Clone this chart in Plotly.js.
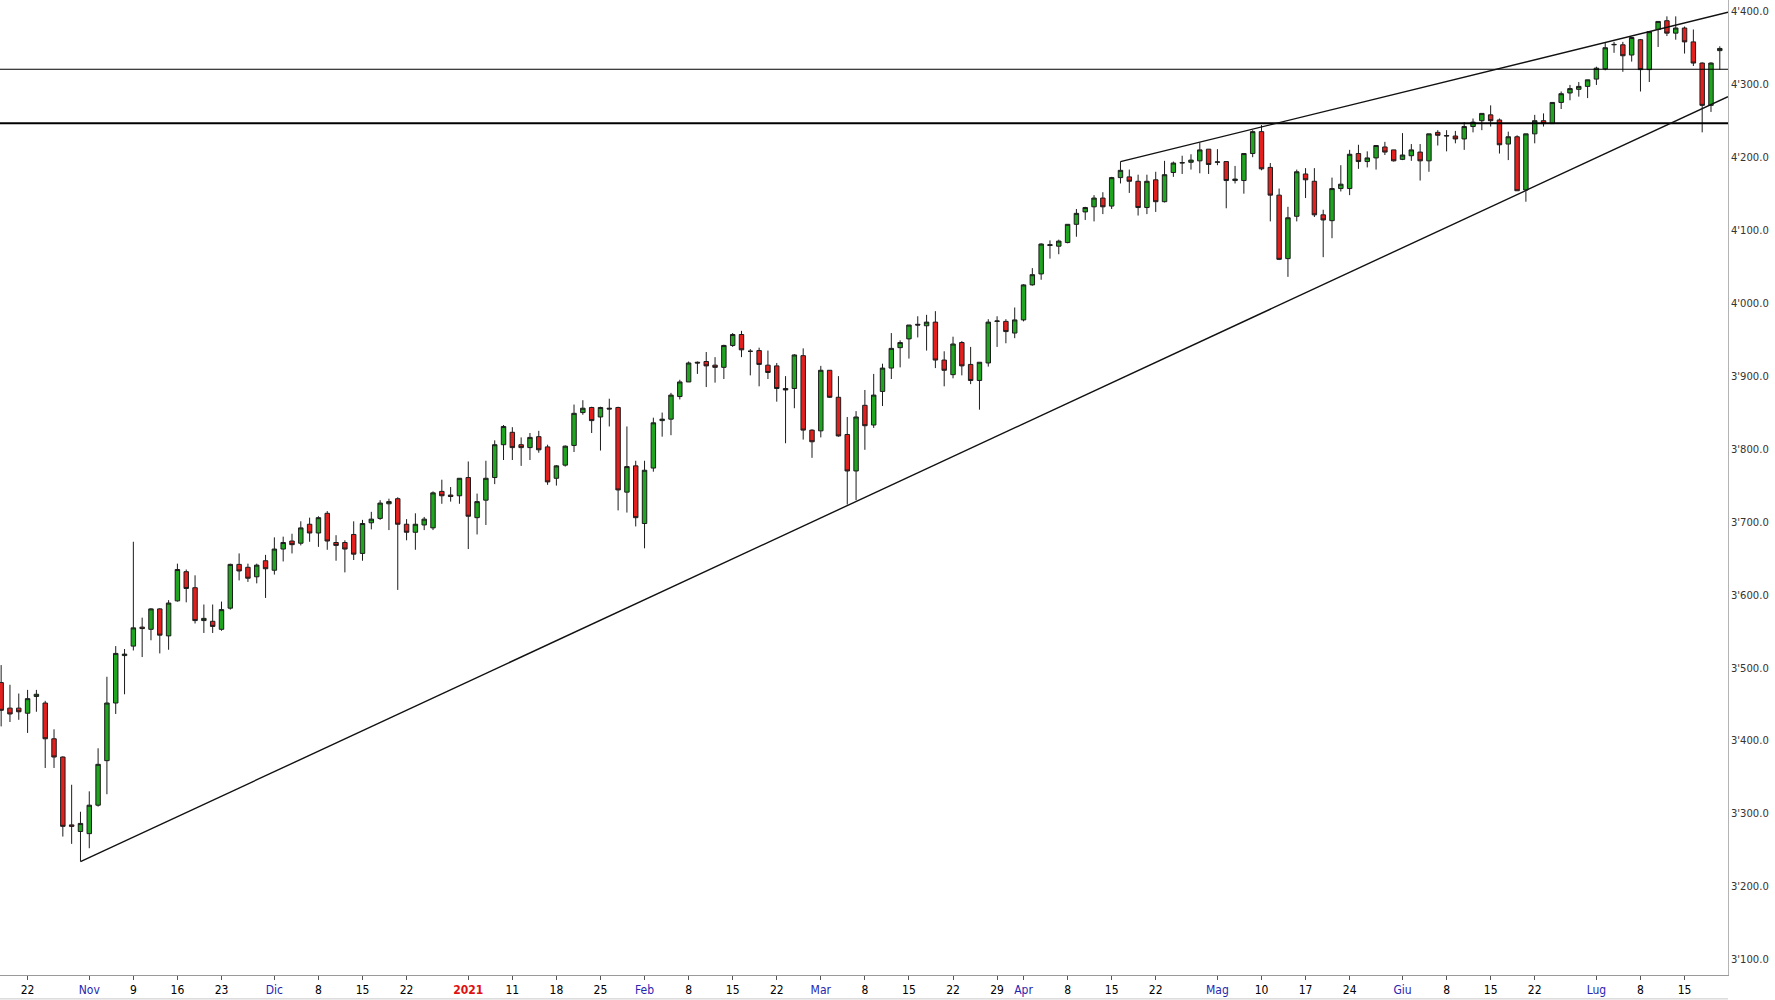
<!DOCTYPE html>
<html>
<head>
<meta charset="utf-8">
<script src="https://cdn.plot.ly/plotly-3.0.1.min.js"></script>
<style>
html,body{margin:0;padding:0;background:#ffffff;}
#chart{width:1775px;height:1000px;}
</style>
</head>
<body>
<div id="chart"></div>
<script>
// Trading sessions shown (month -> day numbers)
const sessionDays = [
  ['2020-10', [19,20,21,22,23,26,27,28,29,30]],
  ['2020-11', [2,3,4,5,6,9,10,11,12,13,16,17,18,19,20,23,24,25,26,27,30]],
  ['2020-12', [1,2,3,4,7,8,9,10,11,14,15,16,17,18,21,22,23,24,28,29,30,31]],
  ['2021-01', [4,5,6,7,8,11,12,13,14,15,18,19,20,21,22,25,26,27,28,29]],
  ['2021-02', [1,2,3,4,5,8,9,10,11,12,15,16,17,18,19,22,23,24,25,26]],
  ['2021-03', [1,2,3,4,5,8,9,10,11,12,15,16,17,18,19,22,23,24,25,26,29,30,31]],
  ['2021-04', [1,2,5,6,7,8,9,12,13,14,15,16,19,20,21,22,23,26,27,28,29,30]],
  ['2021-05', [3,4,5,6,7,10,11,12,13,14,17,18,19,20,21,24,25,26,27,28,31]],
  ['2021-06', [1,2,3,4,7,8,9,10,11,14,15,16,17,18,21,22,23,24,25,28,29,30]],
  ['2021-07', [1,2,5,6,7,8,9,12,13,14,15,16,19,20,21]]
];

const openVals = [
  3480,3445,3445,3438,3461,3452,3403,3378,3285,3276,
  3273,3312,3373,3452,3517,3530,3556,3553,3581,3544,
  3592,3632,3610,3565,3564,3553,3582,3642,3638,3625,
  3647,3634,3663,3674,3671,3697,3685,3712,3672,3672,
  3683,3657,3699,3705,3725,3732,3697,3686,3696,3692,
  3742,3737,3736,3761,3706,3730,3761,3806,3823,3806,
  3802,3817,3803,3760,3778,3805,3850,3857,3844,3856,
  3857,3741,3777,3698,3774,3839,3841,3872,3892,3919,
  3920,3915,3912,3942,3957,3934,3935,3915,3914,3883,
  3883,3928,3826,3825,3908,3871,3820,3770,3860,3833,
  3879,3911,3939,3951,3971,3969,3974,3922,3902,3946,
  3916,3894,3918,3975,3975,3959,3977,4025,4040,4079,
  4078,4083,4108,4125,4132,4144,4133,4172,4173,4167,
  4131,4169,4139,4179,4192,4193,4195,4211,4193,4194,
  4168,4168,4205,4235,4186,4148,4061,4119,4177,4167,
  4121,4113,4157,4157,4205,4194,4199,4214,4210,4197,
  4202,4207,4195,4234,4229,4229,4225,4242,4250,4258,
  4251,4218,4228,4155,4232,4250,4246,4275,4288,4293,
  4297,4307,4321,4354,4354,4340,4361,4320,4375,4387,
  4370,4377,4358,4329,4271,4346
];
const highVals = [
  3504,3477,3465,3470,3470,3455,3416,3379,3340,3303,
  3331,3390,3488,3530,3526,3673,3569,3582,3582,3593,
  3643,3635,3627,3587,3587,3591,3643,3657,3643,3643,
  3655,3679,3680,3684,3701,3706,3708,3715,3682,3675,
  3701,3703,3714,3730,3732,3734,3704,3712,3707,3742,
  3758,3748,3760,3783,3739,3784,3812,3833,3830,3816,
  3822,3825,3806,3778,3805,3861,3867,3858,3858,3869,
  3858,3831,3784,3784,3843,3850,3877,3895,3920,3920,
  3933,3926,3943,3959,3962,3937,3939,3935,3918,3900,
  3930,3938,3827,3914,3908,3900,3844,3852,3881,3903,
  3917,3959,3949,3970,3982,3984,3989,3934,3954,3948,
  3940,3919,3978,3982,3978,3994,4026,4048,4082,4086,
  4087,4108,4129,4132,4148,4152,4173,4194,4183,4176,
  4176,4180,4195,4194,4202,4204,4220,4211,4211,4194,
  4188,4205,4237,4244,4192,4157,4132,4183,4185,4185,
  4128,4172,4189,4210,4217,4208,4216,4221,4210,4233,
  4218,4218,4232,4237,4237,4236,4248,4253,4260,4271,
  4253,4235,4230,4232,4258,4260,4275,4290,4299,4303,
  4306,4324,4357,4358,4358,4365,4362,4372,4386,4393,
  4393,4379,4375,4330,4330,4352
];
const lowVals = [
  3420,3426,3429,3411,3440,3363,3363,3269,3259,3235,
  3253,3310,3327,3437,3464,3524,3515,3538,3520,3525,
  3591,3590,3561,3548,3548,3551,3580,3620,3618,3616,
  3596,3628,3646,3657,3668,3673,3666,3662,3647,3631,
  3648,3647,3690,3703,3689,3607,3675,3662,3689,3689,
  3725,3728,3725,3663,3683,3696,3752,3785,3785,3777,
  3785,3795,3751,3750,3776,3796,3847,3822,3798,3831,
  3716,3713,3694,3664,3769,3817,3819,3868,3892,3903,
  3885,3891,3896,3940,3926,3901,3886,3896,3865,3808,
  3856,3813,3788,3816,3870,3817,3724,3730,3799,3829,
  3859,3896,3912,3924,3953,3935,3911,3886,3897,3901,
  3889,3854,3913,3940,3945,3952,3975,4024,4032,4061,
  4067,4082,4091,4114,4112,4122,4129,4164,4151,4120,
  4122,4125,4138,4173,4177,4183,4178,4177,4189,4130,
  4164,4150,4200,4182,4112,4059,4036,4112,4144,4118,
  4063,4089,4153,4148,4184,4186,4183,4203,4194,4196,
  4195,4168,4180,4216,4208,4219,4210,4234,4237,4242,
  4205,4196,4154,4139,4219,4242,4246,4266,4278,4283,
  4281,4299,4319,4343,4317,4331,4290,4303,4351,4366,
  4361,4342,4325,4234,4262,4320
];
const closeVals = [
  3442,3437,3440,3458,3464,3403,3378,3283,3283,3287,
  3312,3368,3452,3520,3519,3555,3554,3581,3545,3589,
  3635,3609,3565,3568,3557,3580,3642,3633,3623,3641,
  3636,3663,3672,3669,3692,3685,3706,3674,3668,3663,
  3656,3698,3704,3726,3728,3697,3686,3697,3704,3740,
  3736,3735,3760,3708,3728,3760,3806,3831,3802,3802,
  3816,3799,3755,3777,3804,3849,3856,3839,3857,3855,
  3744,3776,3706,3771,3836,3841,3874,3892,3918,3918,
  3914,3912,3942,3957,3936,3934,3916,3905,3883,3881,
  3929,3826,3810,3908,3871,3818,3770,3844,3832,3874,
  3911,3938,3946,3970,3970,3974,3922,3908,3944,3914,
  3894,3919,3974,3975.5,3961,3977,4025,4039,4081,4080,
  4085,4108,4123,4131,4144,4132,4172,4182,4167,4131,
  4167,4139,4176,4192,4192.5,4196,4210,4190,4193.5,4168,
  4170,4205,4235,4184,4148,4060,4117,4180,4169,4121,
  4114,4157,4163,4204,4194,4199,4216,4207,4195,4203,
  4210,4195,4232,4230,4229.5,4225,4242,4248,4260,4250,
  4217,4228,4154,4232,4250,4246,4275,4287,4294,4297,
  4306,4322,4350,4354.5,4339,4364,4320,4372,4386,4370,
  4377,4358,4329,4271,4329,4349
];

// x-axis labels (date -> label, kind)
const tickDates = ['2020-10-22','2020-11-02','2020-11-09','2020-11-16','2020-11-23','2020-12-01','2020-12-08','2020-12-15','2020-12-22',
  '2021-01-04','2021-01-11','2021-01-18','2021-01-25','2021-02-01','2021-02-08','2021-02-15','2021-02-22','2021-03-01','2021-03-08',
  '2021-03-15','2021-03-22','2021-03-29','2021-04-01','2021-04-08','2021-04-15','2021-04-22','2021-05-03','2021-05-10','2021-05-17',
  '2021-05-24','2021-06-01','2021-06-08','2021-06-15','2021-06-22','2021-07-01','2021-07-08','2021-07-15'];
const tickLabels = ['22','Nov','9','16','23','Dic','8','15','22',
  '2021','11','18','25','Feb','8','15','22','Mar','8',
  '15','22','29','Apr','8','15','22','Mag','10','17',
  '24','Giu','8','15','22','Lug','8','15'];
const tickKinds = ['d','m','d','d','d','m','d','d','d',
  'y','d','d','d','m','d','d','d','m','d',
  'd','d','d','m','d','d','d','m','d','d',
  'd','m','d','d','d','m','d','d'];

const yTickVals = [3100,3200,3300,3400,3500,3600,3700,3800,3900,4000,4100,4200,4300,4400];

// drawn support/resistance levels
const hLevels = [4320.5, 4246.5];
// trendlines: [start date, start value, value at right edge]
const trendLines = [
  ['2020-10-30', 3234.6, 4283.0],
  ['2021-04-16', 4193.9, 4398.6]
];

// ---- build ----
const dates = [];
sessionDays.forEach(([ym, days]) => days.forEach(d => dates.push(ym + '-' + String(d).padStart(2,'0'))));
const xIdx = dates.map((d, i) => i);
const idxOf = d => dates.indexOf(d);

const X_MIN = -0.13, X_MAX = 195.93;

const ticktext = tickLabels.map((t, i) => {
  if (tickKinds[i] === 'm') return '<span style="color:#2626b0">' + t + '</span>';
  if (tickKinds[i] === 'y') return '<b><span style="color:#e01010">' + t + '</span></b>';
  return t;
});

const trace = {
  type: 'candlestick',
  x: xIdx,
  open: openVals, high: highVals, low: lowVals, close: closeVals,
  increasing: {line: {color: '#1c1c1c', width: 1}, fillcolor: '#1fa51f'},
  decreasing: {line: {color: '#1c1c1c', width: 1}, fillcolor: '#e3201e'},
  whiskerwidth: 0,
  hoverinfo: 'skip'
};

const shapes = [];
hLevels.forEach((v, i) => {
  shapes.push({type: 'line', xref: 'paper', yref: 'y', x0: 0, x1: 1, y0: v, y1: v,
    line: {color: '#000', width: i === 0 ? 1 : 2}});
});
trendLines.forEach(t => {
  shapes.push({type: 'line', xref: 'x', yref: 'y', x0: idxOf(t[0]), y0: t[1], x1: X_MAX, y1: t[2],
    line: {color: '#111', width: 1.4}});
});
// bottom frame line
shapes.push({type: 'line', xref: 'paper', yref: 'paper', x0: 0, x1: 1, y0: -0.0245, y1: -0.0245,
  line: {color: '#c8c8c8', width: 1}});

const layout = {
  width: 1775, height: 1000,
  margin: {l: 0, r: 47, t: 0, b: 25, pad: 0},
  paper_bgcolor: '#ffffff', plot_bgcolor: '#ffffff',
  separators: ".'",
  showlegend: false,
  boxgap: 0.28,
  xaxis: {
    type: 'linear', range: [X_MIN, X_MAX],
    rangeslider: {visible: false},
    tickmode: 'array', tickvals: tickDates.map(idxOf), ticktext: ticktext,
    showgrid: false, zeroline: false,
    showline: true, linecolor: '#9a9a9a', linewidth: 1,
    ticks: 'outside', ticklen: 4, tickcolor: '#555', tickwidth: 1,
    tickfont: {family: '"Liberation Sans Narrow", "DejaVu Sans Condensed", sans-serif', size: 12, color: '#000'},
    fixedrange: true
  },
  yaxis: {
    side: 'right', range: [3079.3, 4415.4],
    tickmode: 'array', tickvals: yTickVals, tickformat: ',.1f',
    showgrid: false, zeroline: false,
    showline: true, linecolor: '#b4b4b4', linewidth: 1,
    ticks: '',
    tickfont: {family: '"DejaVu Sans", Verdana, sans-serif', size: 10, color: '#333'},
    fixedrange: true
  },
  shapes: shapes
};

Plotly.newPlot('chart', [trace], layout, {displayModeBar: false, staticPlot: true});
</script>
</body>
</html>
